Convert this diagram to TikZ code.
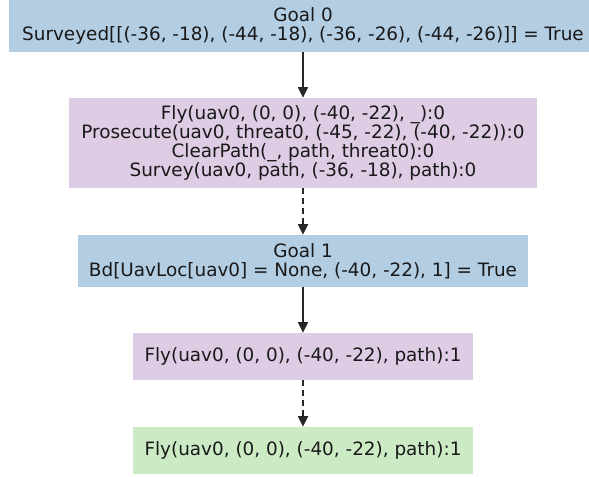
\documentclass[tikz,border=0pt]{standalone}
\usepackage{fontspec}
\setmainfont{DejaVu Sans}
\usetikzlibrary{arrows.meta}
\definecolor{goalblue}{HTML}{B3CDE3}
\definecolor{actpurple}{HTML}{DECBE4}
\definecolor{actgreen}{HTML}{CCEBC5}
\begin{document}
\begin{tikzpicture}[x=0.75pt,y=-0.75pt,
  box/.style={rectangle, inner sep=0pt, align=center, font=\fontsize{13.8}{14.3}\selectfont, text=black!90},
  goalbox/.style={box, fill=goalblue},
  actbox/.style={box, fill=actpurple},
  donebox/.style={box, fill=actgreen},
  link/.style={draw=black!85, line width=1.2pt, -{Triangle[length=8pt,width=7.5pt]}},
  dlink/.style={link, dash pattern=on 4.5pt off 3pt}]
\useasboundingbox (0,0) rectangle (589,476);
\node[goalbox, minimum width=588*0.75pt, minimum height=52*0.75pt] (g0) at (303,26)
  {Goal 0\\Surveyed[[(-36, -18), (-44, -18), (-36, -26), (-44, -26)]] = True};
\node[actbox, minimum width=468*0.75pt, minimum height=90*0.75pt] (a0) at (303,143)
  {Fly(uav0, (0, 0), (-40, -22), \_):0\\Prosecute(uav0, threat0, (-45, -22), (-40, -22)):0\\ClearPath(\_, path, threat0):0\\Survey(uav0, path, (-36, -18), path):0};
\node[goalbox, minimum width=450*0.75pt, minimum height=52*0.75pt] (g1) at (303,261)
  {Goal 1\\Bd[UavLoc[uav0] = None, (-40, -22), 1] = True};
\node[actbox, minimum width=340*0.75pt, minimum height=47*0.75pt] (a1) at (303,356.5)
  {Fly(uav0, (0, 0), (-40, -22), path):1};
\node[donebox, minimum width=340*0.75pt, minimum height=47*0.75pt] (d1) at (303,450.5)
  {Fly(uav0, (0, 0), (-40, -22), path):1};
\draw[link] (g0) -- (a0);
\draw[dlink] (a0) -- (g1);
\draw[link] (g1) -- (a1);
\draw[dlink] (a1) -- (d1);
\end{tikzpicture}
\end{document}
